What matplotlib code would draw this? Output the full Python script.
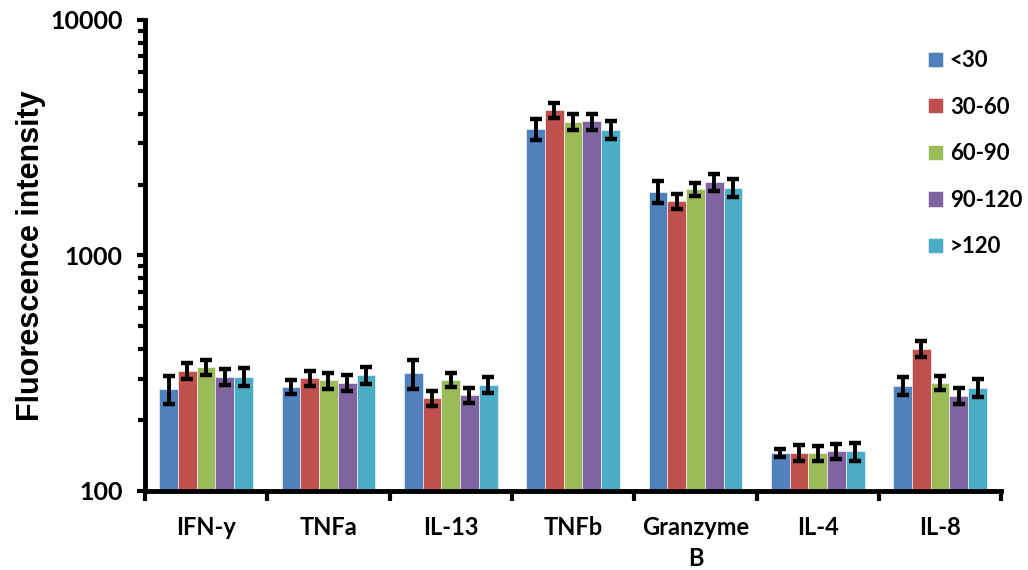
import numpy as np
import matplotlib
matplotlib.use("Agg")
import matplotlib.pyplot as plt
from matplotlib.ticker import LogLocator, FixedLocator, NullFormatter, FixedFormatter

categories = ["IFN-y", "TNFa", "IL-13", "TNFb", "Granzyme\nB", "IL-4", "IL-8"]
groups = ["<30", "30-60", "60-90", "90-120", ">120"]
colors = ["#4F81BD", "#C0504D", "#9BBB59", "#8064A2", "#4BACC6"]

v_lt30 = [271, 277, 316, 3445, 1866, 145.5, 280]
v_30_60 = [324, 301, 248, 4136, 1700, 145.5, 402]
v_60_90 = [335, 295, 297, 3700, 1911, 144.6, 288]
v_90_120 = [305, 288, 256, 3710, 2044, 147.5, 253]
v_gt120 = [305, 311, 283, 3421, 1941, 147.5, 274]

e_lt30 = [38, 19, 44, 350, 200, 6, 24]
e_30_60 = [24, 22, 19, 300, 125, 11, 30]
e_60_90 = [25, 23, 21, 290, 125, 10, 20]
e_90_120 = [24, 22, 19, 290, 170, 11, 20]
e_gt120 = [27, 26, 22, 310, 165, 13, 24]

values = [v_lt30, v_30_60, v_60_90, v_90_120, v_gt120]
errors = [e_lt30, e_30_60, e_60_90, e_90_120, e_gt120]

fig = plt.figure(figsize=(10.28, 5.7), dpi=100)
ax = fig.add_axes([0.141, 0.1386, 0.833, 0.8264])

x = np.arange(len(categories))
w = 0.153
for i, (vals, errs) in enumerate(zip(values, errors)):
    pos = x + (i - 2) * w
    ax.bar(pos, vals, width=w, color=colors[i], label=groups[i],
           edgecolor="white", linewidth=0.4, zorder=2)
    ax.errorbar(pos, vals, yerr=errs, fmt="none", ecolor="black",
                elinewidth=2.8, capsize=4.5, capthick=3.2, zorder=3)

ax.set_yscale("log")
ax.set_ylim(100, 10000)
ax.set_xlim(-0.5, len(categories) - 0.5)

ax.yaxis.set_major_locator(FixedLocator([100, 1000, 10000]))
ax.yaxis.set_major_formatter(FixedFormatter(["100", "1000", "10000"]))
ax.yaxis.set_minor_locator(LogLocator(base=10, subs=np.arange(2, 10)))
ax.yaxis.set_minor_formatter(NullFormatter())
ax.tick_params(axis="y", which="major", direction="out", length=6, width=3,
               labelsize=18, pad=10)
ax.tick_params(axis="y", which="minor", direction="out", length=5, width=3)

ax.set_xticks(x)
ax.set_xticklabels(categories, linespacing=1.4)
ax.set_xticks(np.arange(-0.5, len(categories) + 0.5, 1), minor=True)
ax.tick_params(axis="x", which="major", length=0, labelsize=17, pad=18)
ax.tick_params(axis="x", which="minor", direction="out", length=7, width=3)
for lab in ax.get_xticklabels():
    lab.set_fontweight("bold")
    lab.set_family("Lato")
for lab in ax.get_yticklabels():
    lab.set_fontweight("bold")
    lab.set_family("Lato")

for s in ["top", "right"]:
    ax.spines[s].set_visible(False)
for s in ["left", "bottom"]:
    ax.spines[s].set_linewidth(3.5)

ax.set_ylabel("Fluorescence intensity", fontsize=22, fontweight="bold",
              family="Liberation Sans", labelpad=3)

handles, labels = ax.get_legend_handles_labels()
leg = fig.legend(handles, labels, loc="upper left",
                 bbox_to_anchor=(928 / 1028, 1 - 50 / 570),
                 bbox_transform=fig.transFigure, frameon=False,
                 handlelength=0.68, handleheight=0.68, labelspacing=1.15,
                 handletextpad=0.3, borderaxespad=0, borderpad=0,
                 prop={"family": "Lato", "weight": "bold", "size": 16})

fig.savefig("out.png", dpi=100)
